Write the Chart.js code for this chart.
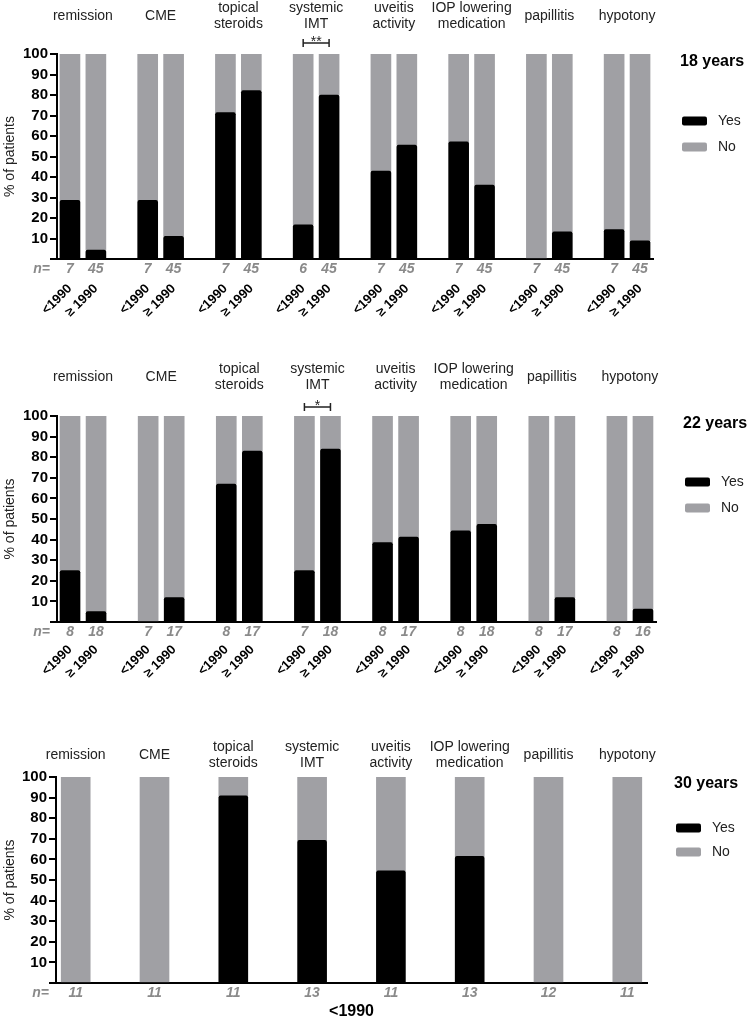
<!DOCTYPE html>
<html><head><meta charset="utf-8">
<script src="https://cdn.jsdelivr.net/npm/chart.js@4/dist/chart.umd.min.js"></script>
<style>
html,body{margin:0;padding:0;background:#fff;}
#wrap{position:relative;width:751px;height:1020px;overflow:hidden;}
canvas{position:absolute;left:0;}
</style></head><body>
<div id="wrap">
<canvas id="c1" width="751" height="330" style="top:0px"></canvas>
<canvas id="c2" width="751" height="360" style="top:330px"></canvas>
<canvas id="c3" width="751" height="330" style="top:690px"></canvas>
</div>
<script>
// ---------- data ----------
const categories = ['remission', 'CME', ['topical', 'steroids'], ['systemic', 'IMT'],
  ['uveitis', 'activity'], ['IOP lowering', 'medication'], 'papillitis', 'hypotony'];
const periods = ['<1990', '≥ 1990'];
const seriesNames = ['Yes', 'No'];
const yTicks = [10, 20, 30, 40, 50, 60, 70, 80, 90, 100];

// 18 years: [<1990, >=1990]
const yes18 = [[28.6, 4.4], [28.6, 11.1], [71.4, 82.2], [16.7, 80.0], [42.9, 55.6], [57.1, 36.0], [0, 13.3], [14.3, 8.9]];
const no18  = [[71.4, 95.6], [71.4, 88.9], [28.6, 17.8], [83.3, 20.0], [57.1, 44.4], [42.9, 64.0], [100, 86.7], [85.7, 91.1]];
const n18   = [[7, 45], [7, 45], [7, 45], [6, 45], [7, 45], [7, 45], [7, 45], [7, 45]];

// 22 years
const yes22 = [[25, 5], [0, 11.8], [67, 83], [25, 84], [38.5, 41.2], [44.3, 47.4], [0, 11.8], [0, 6.3]];
const no22  = [[75, 95], [100, 88.2], [33, 17], [75, 16], [61.5, 58.8], [55.7, 52.6], [100, 88.2], [100, 93.7]];
const n22   = [[8, 18], [7, 17], [8, 17], [7, 18], [8, 17], [8, 18], [8, 17], [8, 16]];

// 30 years (<1990 only)
const yes30 = [0, 0, 90.9, 69.2, 54.5, 61.5, 0, 0];
const no30  = [100, 100, 9.1, 30.8, 45.5, 38.5, 100, 100];
const n30   = [11, 11, 11, 13, 11, 13, 12, 11];

// ---------- helpers ----------
function pairSlots(pairs, gap) {
  const out = [];
  pairs.forEach((p, i) => { out.push(p[0], p[1]); if (i < pairs.length - 1) out.push(gap); });
  return out;
}
function singleSlots(arr, gap) {
  const out = [];
  arr.forEach((v, i) => { out.push(v); if (i < arr.length - 1) out.push(gap); });
  return out;
}

const FONT = '"Liberation Sans", Arial, Helvetica, sans-serif';
Chart.defaults.font.family = FONT;
const BLACK = '#000000';
const GRAY = '#a0a0a4';
const NCOLOR = '#8a8a8a';

const decor = {
  id: 'decor',
  afterDraw(chart, args, o) {
    const { ctx, chartArea: a, scales } = chart;
    const x = scales.x;
    ctx.save();
    // category titles
    ctx.fillStyle = '#222';
    ctx.font = '14px ' + FONT;
    ctx.textAlign = 'center';
    ctx.textBaseline = 'middle';
    categories.forEach((c, i) => {
      const cx = o.pair ? (x.getPixelForValue(3 * i) + x.getPixelForValue(3 * i + 1)) / 2
                        : x.getPixelForValue(2 * i);
      const y0 = a.top - o.titleGap;
      if (Array.isArray(c)) { ctx.fillText(c[0], cx, y0 - 8); ctx.fillText(c[1], cx, y0 + 8); }
      else ctx.fillText(c, cx, y0);
    });
    // significance bracket
    if (o.bracket) {
      const g = o.bracket.group;
      const x1 = x.getPixelForValue(3 * g), x2 = x.getPixelForValue(3 * g + 1);
      const by = a.top - o.bracket.dy;
      ctx.strokeStyle = '#222'; ctx.lineWidth = 1.5;
      ctx.beginPath();
      ctx.moveTo(x1, by); ctx.lineTo(x2, by);
      ctx.moveTo(x1, by - 4); ctx.lineTo(x1, by + 4);
      ctx.moveTo(x2, by - 4); ctx.lineTo(x2, by + 4);
      ctx.stroke();
      ctx.font = '14px ' + FONT; ctx.textBaseline = 'alphabetic';
      ctx.fillText(o.bracket.stars, (x1 + x2) / 2, by + 3);
    }
    // n= label
    const nScale = scales[o.nAxis];
    ctx.fillStyle = NCOLOR;
    ctx.font = 'italic bold 14px ' + FONT;
    ctx.textAlign = 'right'; ctx.textBaseline = 'middle';
    ctx.fillText('n=', a.left - 7, nScale.top + 2 + 8.4);
    // panel title + legend
    ctx.fillStyle = '#000';
    ctx.font = 'bold 16px ' + FONT;
    ctx.textAlign = 'left';
    ctx.fillText(o.age, a.right + 27, a.top + o.ageDy);
    chart.data.datasets.forEach((ds, i) => {
      const cy = a.top + o.legDy + i * o.legStep;
      ctx.fillStyle = ds.backgroundColor;
      ctx.beginPath();
      ctx.roundRect(a.right + 29, cy - 4.5, 25, 9, 2);
      ctx.fill();
      ctx.fillStyle = '#222';
      ctx.font = '14px ' + FONT;
      ctx.fillText(ds.label, a.right + 65, cy);
    });
    ctx.restore();
  }
};

function yAxis(width) {
  return {
    type: 'linear', min: 0, max: 100, stacked: true,
    afterBuildTicks: s => { s.ticks = [0].concat(yTicks).map(v => ({ value: v })); },
    ticks: { autoSkip: false, callback: v => (v === 0 ? '' : v), color: '#000', font: { size: 15, weight: 'bold' }, padding: 2 },
    grid: { display: true, drawOnChartArea: false, drawTicks: true, tickLength: 7, color: '#000', lineWidth: 2 },
    border: { display: true, color: '#000', width: 2 },
    title: { display: true, text: '% of patients', color: '#222', font: { size: 14 }, padding: 2 },
    afterFit: s => { s.width = width; }
  };
}

function pairChart(id, yesArr, noArr, nArr, opts) {
  const yearLabels = pairSlots(categories.map(() => periods), '');
  const nLabels = pairSlots(nArr.map(p => p.map(String)), '');
  return new Chart(document.getElementById(id), {
    type: 'bar',
    data: {
      labels: yearLabels,
      datasets: [
        { label: seriesNames[0], data: pairSlots(yesArr, null), backgroundColor: BLACK, borderRadius: { topLeft: 2, topRight: 2 }, borderSkipped: 'start' },
        { label: seriesNames[1], data: pairSlots(noArr, null), backgroundColor: GRAY }
      ]
    },
    options: {
      responsive: false, animation: false,
      layout: { padding: { top: opts.top, right: opts.right, left: 0, bottom: 0 } },
      datasets: { bar: { barThickness: 20 } },
      plugins: { legend: { display: false }, tooltip: { enabled: false }, decor: opts.decor },
      scales: {
        x: {
          type: 'category', position: 'bottom', stacked: true, offset: true, weight: 1,
          grid: { display: false, drawTicks: false }, border: { display: false },
          ticks: { autoSkip: false, minRotation: 45, maxRotation: 45, color: '#000', font: { size: 13, weight: 'bold' }, padding: opts.yearPad },
          afterFit: s => { s.height = opts.yearH; }
        },
        xN: {
          type: 'category', position: 'bottom', labels: nLabels, offset: true, weight: 0,
          grid: { display: false, drawTicks: false }, border: { display: true, color: '#000', width: 2 },
          ticks: { autoSkip: false, maxRotation: 0, color: NCOLOR, font: { size: 14, weight: 'bold', style: 'italic' }, padding: 2 },
          afterFit: s => { s.height = 20; }
        },
        y: yAxis(57)
      }
    },
    plugins: [decor]
  });
}

pairChart('c1', yes18, no18, n18, {
  top: 54, right: 98, yearPad: 2, yearH: 51,
  decor: { pair: true, titleGap: 38, bracket: { group: 3, stars: '**', dy: 11 }, nAxis: 'xN', age: '18 years', ageDy: 8, legDy: 67, legStep: 26 }
});
pairChart('c2', yes22, no22, n22, {
  top: 86, right: 95, yearPad: 0, yearH: 48,
  decor: { pair: true, titleGap: 39, bracket: { group: 3, stars: '*', dy: 9 }, nAxis: 'xN', age: '22 years', ageDy: 8, legDy: 66, legStep: 26 }
});

new Chart(document.getElementById('c3'), {
  type: 'bar',
  data: {
    labels: singleSlots(n30.map(String), ''),
    datasets: [
      { label: seriesNames[0], data: singleSlots(yes30, null), backgroundColor: BLACK, borderRadius: { topLeft: 2, topRight: 2 }, borderSkipped: 'start' },
      { label: seriesNames[1], data: singleSlots(no30, null), backgroundColor: GRAY }
    ]
  },
  options: {
    responsive: false, animation: false,
    layout: { padding: { top: 87, right: 104, left: 0, bottom: 0 } },
    datasets: { bar: { barThickness: 29 } },
    plugins: { legend: { display: false }, tooltip: { enabled: false },
      decor: { pair: false, titleGap: 22, nAxis: 'x', age: '30 years', ageDy: 7, legDy: 51, legStep: 24 } },
    scales: {
      x: {
        type: 'category', position: 'bottom', stacked: true, offset: true,
        grid: { display: false, drawTicks: false }, border: { display: true, color: '#000', width: 2 },
        ticks: { autoSkip: false, maxRotation: 0, color: NCOLOR, font: { size: 14, weight: 'bold', style: 'italic' }, padding: 2 },
        title: { display: true, text: periods[0], color: '#000', font: { size: 16, weight: 'bold', lineHeight: 1 }, padding: 0 },
        afterFit: s => { s.height = 37; }
      },
      y: yAxis(56)
    }
  },
  plugins: [decor]
});
</script>
</body></html>
